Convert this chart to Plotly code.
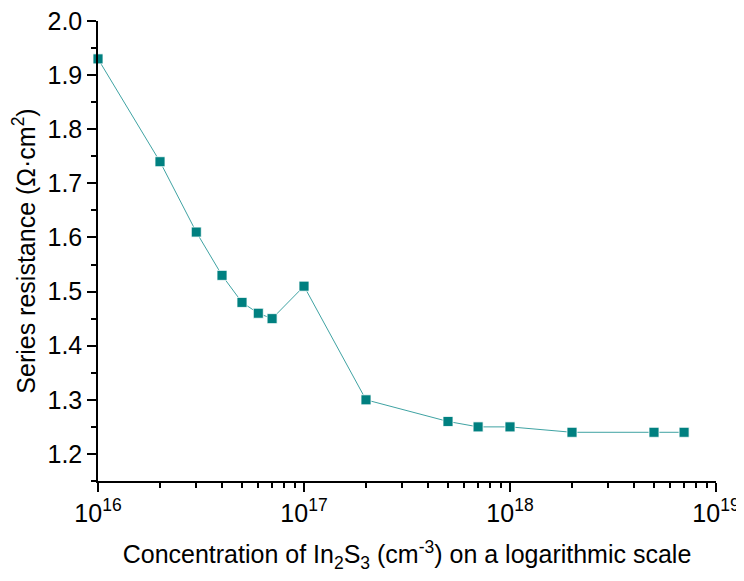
import plotly.graph_objects as go

conc = [1e16, 2e16, 3e16, 4e16, 5e16, 6e16, 7e16, 1e17, 2e17, 5e17, 7e17, 1e18, 2e18, 5e18, 7e18]
resistance = [1.93, 1.74, 1.61, 1.53, 1.48, 1.46, 1.45, 1.51, 1.30, 1.26, 1.25, 1.25, 1.24, 1.24, 1.24]

major_x = [1e16, 1e17, 1e18, 1e19]
major_x_text = ["10<sup>16</sup>", "10<sup>17</sup>", "10<sup>18</sup>", "10<sup>19</sup>"]
minor_x = [m * 10**e for e in (16, 17, 18) for m in range(2, 10)]
major_y = [1.2, 1.3, 1.4, 1.5, 1.6, 1.7, 1.8, 1.9, 2.0]
major_y_text = ["1.2", "1.3", "1.4", "1.5", "1.6", "1.7", "1.8", "1.9", "2.0"]
minor_y = [1.15, 1.25, 1.35, 1.45, 1.55, 1.65, 1.75, 1.85, 1.95]

fig = go.Figure()
fig.add_trace(go.Scatter(
    x=conc, y=resistance, mode="lines+markers",
    line=dict(color="#3fa3a3", width=1),
    marker=dict(symbol="square", size=10, color="#008080", line=dict(color="white", width=0.8)),
    cliponaxis=False, showlegend=False,
))

font = "Liberation Sans, Arial, sans-serif"
fig.update_layout(
    width=744, height=581,
    margin=dict(l=90, r=36, t=13, b=108, autoexpand=False),
    plot_bgcolor="white", paper_bgcolor="white",
    font=dict(family=font, size=24, color="black"),
    xaxis=dict(
        type="log", range=[16, 19], automargin=False,
        tickvals=major_x, ticktext=major_x_text,
        ticks="outside", ticklen=9, tickwidth=1.5, tickcolor="black",
        showline=True, linecolor="black", linewidth=1.5,
        showgrid=False, zeroline=False,
        tickfont=dict(size=25), ticklabeloverflow="allow",
        minor=dict(tickvals=minor_x, ticks="outside", ticklen=5, tickwidth=1.5, tickcolor="black", showgrid=False),
        title=dict(text="Concentration of In<sub>2</sub>S<sub>3</sub> (cm<sup>-3</sup>) on a logarithmic scale",
                   font=dict(size=25), standoff=20),
    ),
    yaxis=dict(
        range=[1.15, 2.0], automargin=False,
        tickvals=major_y, ticktext=major_y_text,
        ticks="outside", ticklen=9, tickwidth=1.5, tickcolor="black",
        showline=True, linecolor="black", linewidth=1.5,
        showgrid=False, zeroline=False,
        tickfont=dict(size=25), ticklabeloverflow="allow",
        minor=dict(tickvals=minor_y, ticks="outside", ticklen=5, tickwidth=1.5, tickcolor="black", showgrid=False),
        title=dict(text="Series resistance (Ω·cm<sup>2</sup>)", font=dict(size=25), standoff=10),
    ),
)

fig.write_html("out.html")
